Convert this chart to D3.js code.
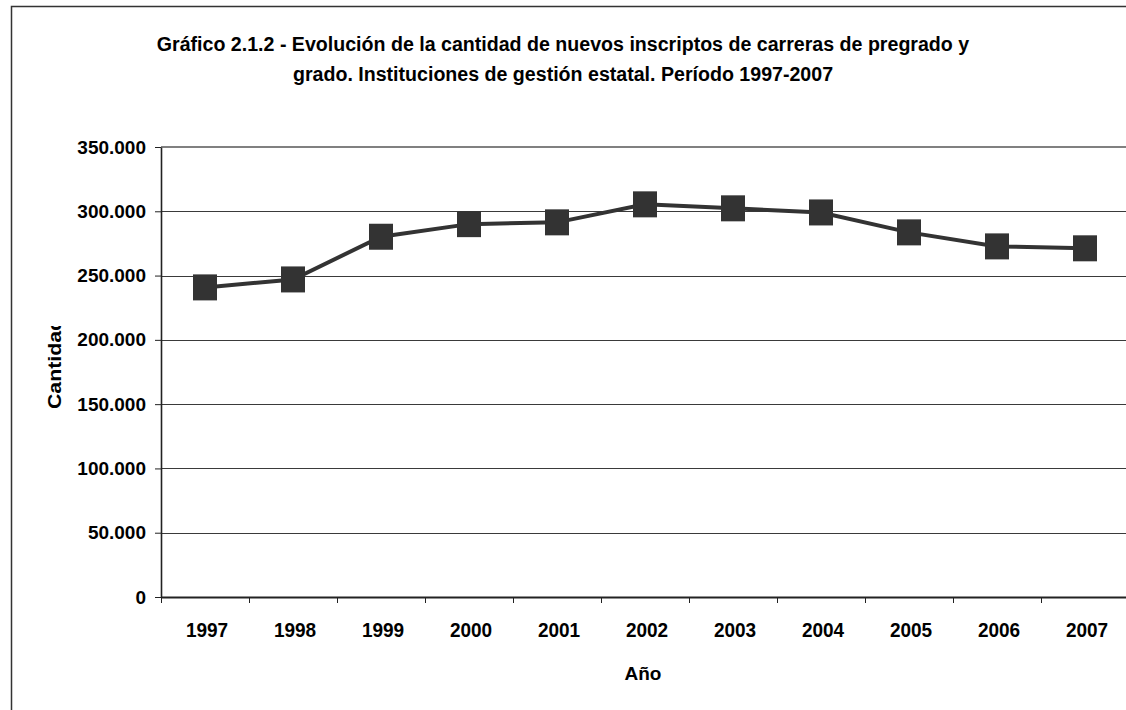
<!DOCTYPE html>
<html>
<head>
<meta charset="utf-8">
<script src="https://cdn.jsdelivr.net/npm/d3@7"></script>
<style>
  html, body { margin: 0; padding: 0; background: #fff; overflow: hidden; }
  svg { display: block; }
  svg text { font-family: "Liberation Sans", Arial, sans-serif; font-weight: bold; fill: #000; }
</style>
</head>
<body>
<svg width="1126" height="710"></svg>
<script>
// Data
var years = ["1997", "1998", "1999", "2000", "2001", "2002", "2003", "2004", "2005", "2006", "2007"];
var inscriptos = [240800, 247000, 280200, 290000, 291400, 305400, 302300, 299100, 283600, 272700, 271200];
var yTicks = [0, 50000, 100000, 150000, 200000, 250000, 300000, 350000];
var titleLines = [
  "Gráfico 2.1.2 - Evolución de la cantidad de nuevos inscriptos de carreras de pregrado y",
  "grado. Instituciones de gestión estatal. Período 1997-2007"
];
var xTitle = "Año";
var yTitle = "Cantidad";

var svg = d3.select("svg");

// plot box (right edge runs past the window, like the original)
var plot = { left: 161, top: 147, bottom: 597, band: 88 };
plot.right = plot.left + plot.band * years.length;

var es = d3.formatLocale({ decimal: ",", thousands: ".", grouping: [3], currency: ["$", ""] });
var fmt = es.format(",d");

var x = d3.scaleBand().domain(years).range([plot.left, plot.right]);
var xEdge = d3.scaleLinear().domain([0, years.length]).range([plot.left, plot.right]);
var y = d3.scaleLinear().domain([0, 350000]).range([plot.bottom, plot.top]);

// outer frame: only top and left edges are inside the window
svg.append("path")
  .attr("d", "M11.5,720V6.5H1140")
  .attr("fill", "none").attr("stroke", "#333").attr("stroke-width", 1.5);

// title
svg.append("g").selectAll("text")
  .data(titleLines)
  .enter().append("text")
    .attr("x", 563)
    .attr("y", function(d, i) { return 51 + i * 29.5; })
    .attr("text-anchor", "middle")
    .style("font-size", "19.6px")
    .text(function(d) { return d; });

// gridlines
svg.append("g").selectAll("line")
  .data(yTicks.filter(function(d) { return d > 0 && d < 350000; }))
  .enter().append("line")
    .attr("x1", plot.left).attr("x2", plot.right)
    .attr("y1", function(d) { return Math.round(y(d)) + 0.5; })
    .attr("y2", function(d) { return Math.round(y(d)) + 0.5; })
    .attr("stroke", "#3a3a3a").attr("stroke-width", 1.2);

// top border of plot area
svg.append("line")
  .attr("x1", plot.left).attr("x2", plot.right)
  .attr("y1", plot.top).attr("y2", plot.top)
  .attr("stroke", "#808080").attr("stroke-width", 2);

// y axis
var yAxis = d3.axisLeft(y)
  .tickValues(yTicks)
  .tickFormat(fmt)
  .tickSizeInner(6).tickSizeOuter(0).tickPadding(9);
var gy = svg.append("g")
  .attr("transform", "translate(" + plot.left + ",0)")
  .call(yAxis);
gy.select(".domain").attr("stroke", "#222").attr("stroke-width", 1.6);
gy.selectAll(".tick line").attr("stroke", "#222");
gy.selectAll(".tick text").style("font-size", "19px").attr("fill", "#000");

// x axis: ticks on the category edges, labels in the middle
var xAxis = d3.axisBottom(xEdge)
  .tickValues(d3.range(years.length + 1))
  .tickFormat("")
  .tickSizeInner(6).tickSizeOuter(0);
var gx = svg.append("g")
  .attr("transform", "translate(0," + plot.bottom + ")")
  .call(xAxis);
gx.select(".domain").attr("stroke", "#222").attr("stroke-width", 1.8);
gx.selectAll(".tick line").attr("stroke", "#222");

svg.append("g").selectAll("text")
  .data(years)
  .enter().append("text")
    .attr("transform", function(d) {
      return "translate(" + (x(d) + x.bandwidth() / 2 + 2) + "," + (plot.bottom + 40) + ") scale(1,1.08)";
    })
    .attr("text-anchor", "middle")
    .style("font-size", "19px")
    .text(function(d) { return d; });

// axis titles
svg.append("text")
  .attr("x", 643).attr("y", 680)
  .attr("text-anchor", "middle")
  .style("font-size", "19px")
  .text(xTitle);

// y title is cut off at the top in the original
svg.append("clipPath").attr("id", "yclip")
  .append("rect").attr("x", 20).attr("y", 326).attr("width", 80).attr("height", 120);
svg.append("g")
  .attr("clip-path", "url(#yclip)")
  .append("text")
    .attr("transform", "translate(61,409) rotate(-90) scale(1.12,1)")
    .style("font-size", "19px")
    .text(yTitle);

// series
var pts = years.map(function(d, i) { return { year: d, value: inscriptos[i] }; });
var line = d3.line()
  .x(function(d) { return x(d.year) + x.bandwidth() / 2; })
  .y(function(d) { return y(d.value); });

svg.append("path")
  .datum(pts)
  .attr("d", line)
  .attr("fill", "none")
  .attr("stroke", "#333")
  .attr("stroke-width", 4);

svg.append("g").selectAll("rect")
  .data(pts)
  .enter().append("rect")
    .attr("x", function(d) { return x(d.year) + x.bandwidth() / 2 - 12; })
    .attr("y", function(d) { return y(d.value) - 13; })
    .attr("width", 24)
    .attr("height", 26)
    .attr("fill", "#333");
</script>
</body>
</html>
